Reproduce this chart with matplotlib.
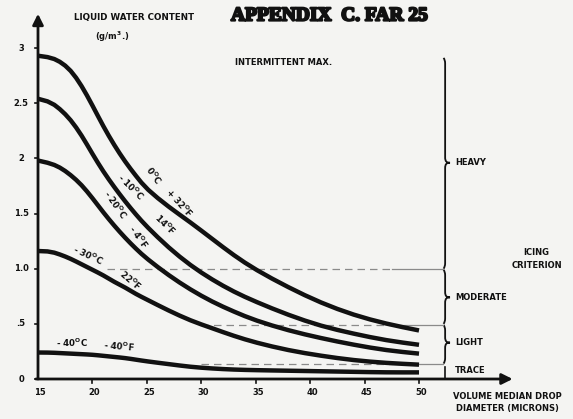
import matplotlib
matplotlib.use("Agg")
import matplotlib.pyplot as plt
import matplotlib.patheffects as pe
from matplotlib.path import Path
from matplotlib.patches import PathPatch

plt.rcParams['font.family'] = ['DejaVu Sans']
plt.rcParams['mathtext.fontset'] = 'dejavusans'

# ---- data: liquid water content (g/m^3) vs volume median drop diameter (microns)
drop_um = [15, 16, 17, 18, 19, 20, 21, 22, 23, 24, 25, 27, 29, 31, 33, 35, 38, 41, 44, 47, 50]
lwc_0c = [2.93, 2.92, 2.88, 2.80, 2.66, 2.48, 2.29, 2.12, 1.97, 1.84, 1.72, 1.56, 1.42,
          1.27, 1.12, 0.99, 0.83, 0.69, 0.58, 0.50, 0.44]
lwc_m10c = [2.54, 2.52, 2.45, 2.35, 2.21, 2.04, 1.88, 1.74, 1.61, 1.49, 1.38, 1.19, 1.03,
            0.90, 0.79, 0.70, 0.58, 0.48, 0.41, 0.35, 0.31]
lwc_m20c = [1.98, 1.96, 1.92, 1.85, 1.76, 1.64, 1.51, 1.39, 1.28, 1.18, 1.09, 0.94, 0.81,
            0.70, 0.61, 0.53, 0.44, 0.37, 0.31, 0.26, 0.23]
lwc_m30c = [1.16, 1.16, 1.13, 1.09, 1.04, 0.99, 0.94, 0.88, 0.83, 0.77, 0.72, 0.62, 0.53,
            0.46, 0.39, 0.33, 0.26, 0.21, 0.17, 0.145, 0.13]
lwc_m40c = [0.24, 0.24, 0.235, 0.23, 0.225, 0.22, 0.21, 0.20, 0.19, 0.175, 0.16, 0.135, 0.11,
            0.095, 0.085, 0.08, 0.075, 0.07, 0.065, 0.06, 0.06]

x_ticks = [15, 20, 25, 30, 35, 40, 45, 50]
y_ticks = [0, 0.5, 1.0, 1.5, 2, 2.5, 3]
y_tick_labels = ['0', '.5', '1.0', '1.5', '2', '2.5', '3']

# severity bands: (name, top, bottom, tip)
bands = [('HEAVY', 2.91, 1.0, 1.96),
         ('MODERATE', 0.99, 0.50, 0.74),
         ('LIGHT', 0.49, 0.14, 0.33)]
trace_top = 0.14
criterion_levels = [1.0, 0.49, 0.14]
criterion_start = [21.3, 30.0, 30.0]

BG = '#f4f4f2'
INK = '#111111'
DEG = r'$^{\mathbf{O}}$'

fig = plt.figure(figsize=(5.73, 4.19), dpi=100, facecolor=BG)
ax = fig.add_axes([0, 0, 1, 1])
ax.set_facecolor(BG)
# one data unit = 10.886 px in x, 110.33 px in y
ax.set_xlim(15 - 38 / 10.886, 15 + 535 / 10.886)
ax.set_ylim(-40 / 110.33, 379 / 110.33)
ax.axis('off')

# axes with arrows
arrow = dict(arrowstyle='-|>', lw=2.0, color=INK, mutation_scale=16, shrinkA=0, shrinkB=0)
ax.annotate('', xy=(15, 3.31), xytext=(15, 0), arrowprops=arrow)
ax.annotate('', xy=(58.6, 0), xytext=(14.8, 0), arrowprops=arrow)

tick_font = dict(fontsize=6.0, fontweight='bold', color=INK, ha='center', va='center')
for t in x_ticks:
    if t > 15:
        ax.plot([t, t], [-0.035, 0], color=INK, lw=1.2)
    ax.text(t + 0.2, -0.125, str(t), **tick_font)
for v, lab in zip(y_ticks, y_tick_labels):
    ax.plot([14.75, 15], [v, v], color=INK, lw=1.2)
    ax.text(13.45, v, lab, **tick_font)

# criterion boundary lines
for lev, x0 in zip(criterion_levels, criterion_start):
    ax.plot([x0, 47.5], [lev, lev], color='#8a8a8a', lw=0.9, ls=(0, (6, 4)))
    ax.plot([47.5, 52.2], [lev, lev], color='#8a8a8a', lw=0.9)


def smooth_curve(xs, ys, **kw):
    # quadratic bezier through the midpoints, so the read points give a smooth stroke
    verts = [(xs[0], ys[0])]
    codes = [Path.MOVETO]
    for i in range(1, len(xs) - 1):
        verts += [(xs[i], ys[i]), ((xs[i] + xs[i + 1]) / 2, (ys[i] + ys[i + 1]) / 2)]
        codes += [Path.CURVE3, Path.CURVE3]
    verts.append((xs[-1], ys[-1]))
    codes.append(Path.LINETO)
    poly = Path(verts, codes).to_polygons(closed_only=False)[0]
    ax.plot(poly[:, 0], poly[:, 1], **kw)


for lwc in [lwc_0c, lwc_m10c, lwc_m20c, lwc_m30c, lwc_m40c]:
    smooth_curve(drop_um, lwc, color=INK, lw=3.2, solid_capstyle='butt',
                 solid_joinstyle='round')


def brace(x, top, bottom, tip, w=0.45, d=0.05):
    verts = [(x - 0.15, top), (x, top - d * 0.3), (x, top - d),
             (x, tip + d),
             (x, tip + d * 0.2), (x + w * 0.3, tip), (x + w, tip),
             (x + w * 0.3, tip), (x, tip - d * 0.2), (x, tip - d),
             (x, bottom + d),
             (x, bottom + d * 0.3), (x - 0.15, bottom)]
    codes = [Path.MOVETO, Path.CURVE3, Path.CURVE3, Path.LINETO,
             Path.CURVE4, Path.CURVE4, Path.CURVE4,
             Path.CURVE4, Path.CURVE4, Path.CURVE4,
             Path.LINETO, Path.CURVE3, Path.CURVE3]
    ax.add_patch(PathPatch(Path(verts, codes), fill=False, lw=1.3, color=INK))


side_font = dict(fontsize=6.0, fontweight='bold', color=INK)
for name, top, bottom, tip in bands:
    brace(52.4, top, bottom, tip)
    ax.text(53.3, tip, name, ha='left', va='center', **side_font)
ax.plot([52.4, 52.4], [trace_top - 0.03, 0], color=INK, lw=1.2)
ax.text(53.3, 0.08, 'TRACE', ha='left', va='center', **side_font)
ax.text(60.8, 1.09, 'ICING\nCRITERION', ha='center', va='center', linespacing=1.6, **side_font)
ax.text(58.1, -0.21, 'VOLUME MEDIAN DROP\nDIAMETER (MICRONS)', ha='center', va='center',
        linespacing=1.45, **side_font)

# curve labels
lab = dict(fontsize=6.2, fontweight='bold', color=INK, ha='center', va='center')
ax.text(25.6, 1.85, '0' + DEG + 'C', rotation=-55, **lab)
ax.text(28.0, 1.60, '+ 32' + DEG + 'F', rotation=-48, **lab)
ax.text(23.5, 1.74, '- 10' + DEG + 'C', rotation=-45, **lab)
ax.text(26.7, 1.40, '14' + DEG + 'F', rotation=-45, **lab)
ax.text(22.1, 1.58, '- 20' + DEG + 'C', rotation=-55, **lab)
ax.text(24.2, 1.29, '- 4' + DEG + 'F', rotation=-55, **lab)
ax.text(19.6, 1.12, '- 30' + DEG + 'C', rotation=-25, **lab)
ax.text(23.5, 0.90, '22' + DEG + 'F', rotation=-40, **lab)
ax.text(18.1, 0.33, '- 40' + DEG + 'C', rotation=0, **lab)
ax.text(22.4, 0.30, '- 40' + DEG + 'F', rotation=-5, **lab)

# headings
ax.text(23.8, 3.28, 'LIQUID WATER CONTENT', ha='center', va='center', fontsize=6.3,
        fontweight='bold', color=INK)
ax.text(21.8, 3.10, r'(g/m$^{\mathbf{3}}$.)', ha='center', va='center', fontsize=6.0,
        fontweight='bold', color=INK)
ax.text(37.6, 2.87, 'INTERMITTENT MAX.', ha='center', va='center', fontsize=6.0,
        fontweight='bold', color=INK)
ax.text(41.8, 3.29, 'APPENDIX  C. FAR 25', ha='center', va='center', fontsize=14,
        fontweight='bold', family='Liberation Serif', color=INK,
        path_effects=[pe.withStroke(linewidth=1.6, foreground=INK)])

fig.savefig('out.png', dpi=100, facecolor=BG)
